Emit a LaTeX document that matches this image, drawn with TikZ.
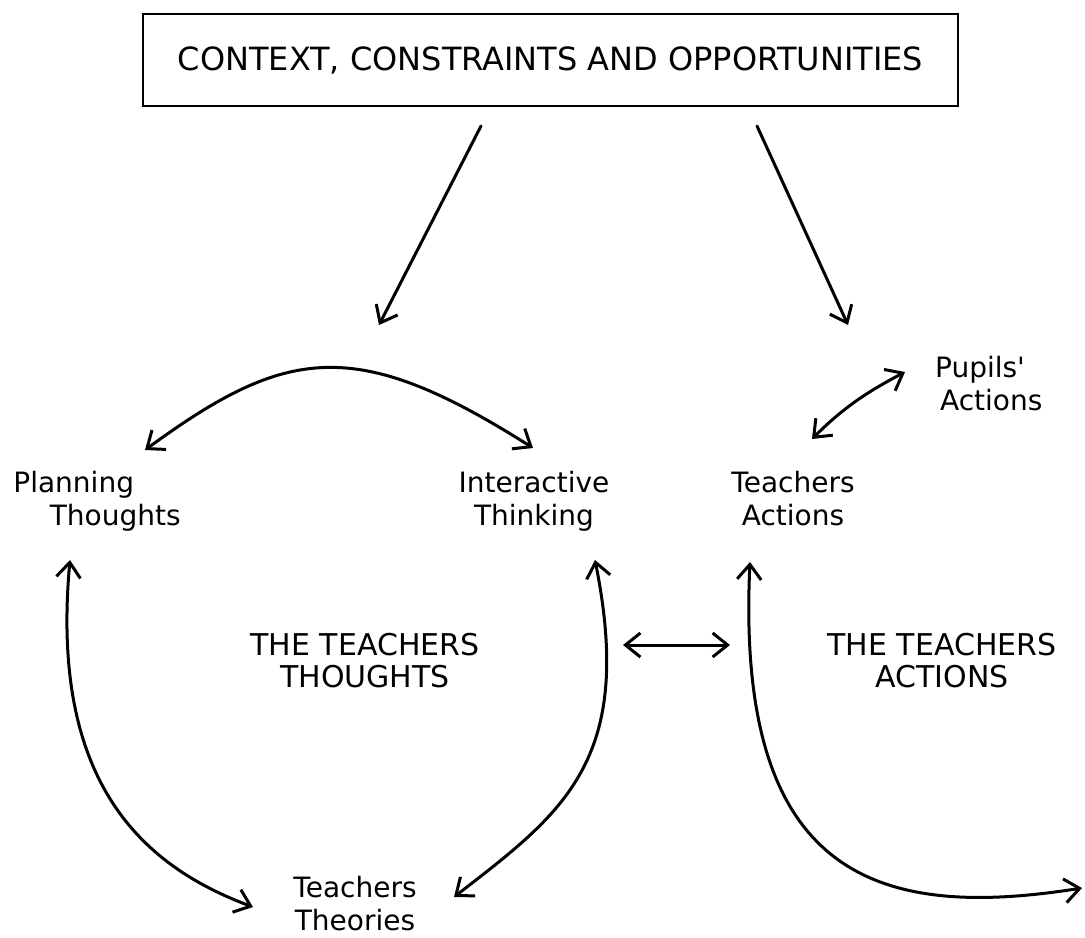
\documentclass[tikz,border=0pt]{standalone}
\usepackage{fontspec}
\setmainfont{DejaVu Sans}
\usetikzlibrary{arrows.meta}

\begin{document}
\begin{tikzpicture}[
x=0.5pt, y=-0.5pt,
>={Straight Barb[length=7.5pt,width=12pt]},
    F/.style = {rectangle, draw, line width=1pt,% frame of the context box
                minimum width=407.5pt, minimum height=46pt,
                font=\fontsize{16}{19}\selectfont},
    L/.style = {inner sep=0pt, align=center,% small two-line labels
                font=\fontsize{14}{16.5}\selectfont},
    T/.style = {inner sep=0pt, align=center,% titles of the two halves
                font=\fontsize{15}{16}\selectfont},
    A/.style = {line width=1.5pt, line cap=round, #1},% arrows
    A/.default = ->,
                        ]
\useasboundingbox (0,0) rectangle (1085,937);

\node[F] (ctx) at (550.5,60) {CONTEXT, CONSTRAINTS AND OPPORTUNITIES};

\node[L, anchor=west, align=left] (plan) at (13,501) {Planning\\\hspace*{1.3em}Thoughts};
\node[L] (inter) at (534,501) {Interactive\\Thinking};
\node[L] (tact)  at (793,499) {Teachers\\Actions};
\node[L] (pupil) at (980,384) {Pupils\textquotesingle\\\hspace*{0.8em}Actions};
\node[L] (theo)  at (355,904) {Teachers\\Theories};

\node[T] (thoughts) at (365,661) {THE TEACHERS\\THOUGHTS};
\node[T] (actions)  at (942,661) {THE TEACHERS\\ACTIONS};

% end points of the hand drawn arrows
\coordinate (ctxL)   at (481,126);  \coordinate (ctxLe)  at (379,325);
\coordinate (ctxR)   at (757,126);  \coordinate (ctxRe)  at (848,325);
\coordinate (planN)  at (145,450);  \coordinate (interN) at (533,448);
\coordinate (tactN)  at (812,439);  \coordinate (pupilW) at (905,372);
\coordinate (planS)  at (70,560);   \coordinate (theoW)  at (253,907);
\coordinate (interS) at (595,560);  \coordinate (theoE)  at (454,897);
\coordinate (tactS)  at (750,562);  \coordinate (actE)   at (1082,888);
\coordinate (midL)   at (623,645);  \coordinate (midR)   at (730,645);

\draw[A] (ctxL) -- (ctxLe);
\draw[A] (ctxR) -- (ctxRe);
\draw[A=<->] (planN) .. controls (286,347) and (355,335) .. (interN);
\draw[A=<->] (tactN) .. controls (842,409) and (865,393) .. (pupilW);
\draw[A=<->] (planS) .. controls (50,780) and (140,865) .. (theoW);
\draw[A=<->] (interS) .. controls (635,760) and (564,812) .. (theoE);
\draw[A=<->] (tactS) .. controls (735,880) and (880,920) .. (actE);
\draw[A=<->] (midL) -- (midR);

\end{tikzpicture}
\end{document}
